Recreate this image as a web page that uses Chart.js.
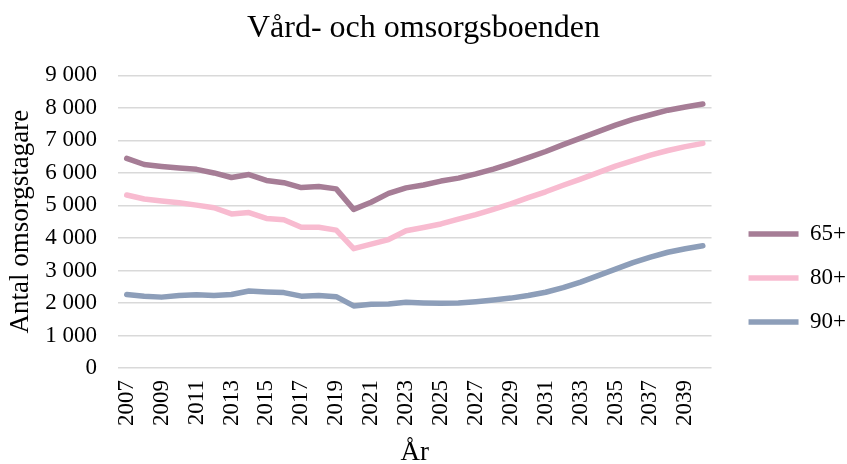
<!DOCTYPE html>
<html>
<head>
<meta charset="utf-8">
<script src="https://cdn.jsdelivr.net/npm/chart.js@4"></script>
<style>
html,body{margin:0;padding:0;background:#fff;}
#wrap{width:847px;height:464px;}
</style>
</head>
<body>
<div id="wrap"><canvas id="c" width="847" height="464"></canvas></div>
<script>
const years = [];
for (let y = 2007; y <= 2040; y++) years.push(String(y));

const seriesNames = ['65+', '80+', '90+'];
const values65 = [6450, 6260, 6200, 6150, 6110, 6000, 5860, 5950, 5770, 5700, 5550, 5580, 5510, 4880,
  5100, 5370, 5540, 5630, 5750, 5840, 5970, 6120, 6290, 6470, 6660, 6870, 7070, 7270, 7470, 7650, 7790, 7930, 8030, 8120];
const values80 = [5320, 5200, 5135, 5080, 5010, 4930, 4740, 4780, 4600, 4560, 4330, 4330, 4240, 3670,
  3810, 3950, 4220, 4320, 4430, 4580, 4720, 4880, 5050, 5240, 5420, 5620, 5810, 6010, 6210, 6380, 6550, 6690, 6810, 6910];
const values90 = [2260, 2210, 2180, 2230, 2250, 2230, 2260, 2370, 2340, 2320, 2210, 2230, 2195, 1910,
  1960, 1970, 2020, 2000, 1990, 2000, 2040, 2090, 2150, 2230, 2330, 2470, 2640, 2840, 3040, 3240, 3410, 3560, 3670, 3760];
const colors = ['#a67d96', '#f8bbd0', '#8d9eb9'];

const serif = "'Liberation Serif', 'Times New Roman', serif";

new Chart(document.getElementById('c'), {
  type: 'line',
  data: {
    labels: years,
    datasets: [values65, values80, values90].map((d, i) => ({
      label: seriesNames[i],
      data: d,
      borderColor: colors[i],
      backgroundColor: colors[i],
      borderWidth: 5.5,
      pointRadius: 0,
      tension: 0,
      borderCapStyle: 'round',
      borderJoinStyle: 'round'
    }))
  },
  options: {
    responsive: false,
    animation: false,
    layout: { padding: { top: 0, right: -9, bottom: 0, left: -9 } },
    plugins: {
      title: {
        display: true,
        text: 'Vård- och omsorgsboenden',
        color: '#000',
        font: { family: serif, size: 32, weight: 'normal' },
        padding: { top: 9, bottom: 28 }
      },
      legend: {
        position: 'right',
        title: { display: true, text: ' ', font: { size: 10 }, padding: { top: 80, bottom: 0 } },
        labels: {
          usePointStyle: true,
          pointStyle: 'line',
          pointStyleWidth: 50,
          color: '#000',
          font: { family: serif, size: 23 },
          padding: 21
        }
      },
      tooltip: { enabled: false }
    },
    scales: {
      x: {
        offset: true,
        grid: { display: false, drawTicks: false },
        border: { display: false },
        ticks: {
          autoSkip: false,
          minRotation: 90,
          maxRotation: 90,
          color: '#000',
          font: { family: serif, size: 23 },
          padding: 12,
          callback: function (v, i) { return i % 2 === 0 ? years[i] : ''; }
        },
        title: {
          display: true,
          text: 'År',
          color: '#000',
          font: { family: serif, size: 27, lineHeight: 0.8 },
          padding: 0
        },
        afterFit: function (s) { s.height = 96; }
      },
      y: {
        min: 0,
        max: 9000,
        grid: { color: '#d9d9d9', lineWidth: 1.5, drawTicks: false },
        border: { display: false },
        ticks: {
          stepSize: 1000,
          color: '#000',
          font: { family: serif, size: 23 },
          padding: 21,
          callback: function (v) { return String(v).replace(/\B(?=(\d{3})+(?!\d))/g, ' '); }
        },
        title: {
          display: true,
          text: 'Antal omsorgstagare',
          color: '#000',
          font: { family: serif, size: 27, lineHeight: 1 },
          padding: 16
        },
        afterFit: function (s) { s.width = 127; }
      },
      ySpacer: {
        type: 'linear',
        position: 'right',
        display: true,
        grid: { display: false, drawTicks: false },
        border: { display: false },
        ticks: { display: false },
        afterFit: function (s) { s.width = 16; }
      }
    }
  }
});
</script>
</body>
</html>
